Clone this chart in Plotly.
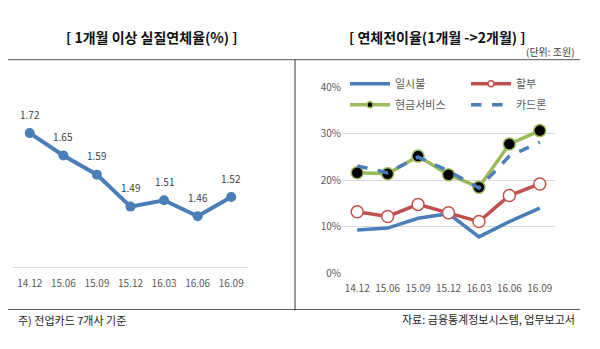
import plotly.graph_objects as go

categories = ["14.12", "15.06", "15.09", "15.12", "16.03", "16.06", "16.09"]
delinquency = [1.72, 1.65, 1.59, 1.49, 1.51, 1.46, 1.52]

lump_sum = [9.3, 9.7, 11.8, 12.8, 7.8, 11.1, 14.0]        # 일시불
installment = [13.2, 12.2, 14.8, 13.0, 11.1, 16.7, 19.2]  # 할부
cash_service = [21.6, 21.4, 25.2, 21.2, 18.5, 27.8, 30.7] # 현금서비스
card_loan = [23.1, 21.6, 25.0, 22.0, 18.3, 25.2, 28.2]    # 카드론

pct_ticks = [0, 10, 20, 30, 40]
pct_labels = [f"{v}%" for v in pct_ticks]

W, H = 600, 349
def px(x):
    return x / W
def py(y):
    return 1 - y / H

FONT = "Noto Sans CJK KR"
BLUE = "#4A7EBB"
RED = "#C0504D"
GREEN = "#9BBB59"
TICK = "#595959"

fig = go.Figure()

# Left chart
fig.add_trace(go.Scatter(
    x=categories, y=delinquency, mode="lines+markers",
    line=dict(color=BLUE, width=4), marker=dict(size=10, color=BLUE),
    xaxis="x", yaxis="y", showlegend=False, hoverinfo="skip"))

for i, v in enumerate(delinquency):
    fig.add_annotation(x=i, y=v, xref="x", yref="y", text=f"{v:.2f}",
                       showarrow=False, yshift=19, xanchor="center", yanchor="middle",
                       font=dict(family=FONT, size=10, color="#404040"))

# Right chart series
series = [
    ("일시불", lump_sum, dict(color=BLUE, width=3.5), None, "legend"),
    ("할부", installment, dict(color=RED, width=3.5),
     dict(color="white", line=dict(color=RED, width=1.5)), "legend2"),
    ("현금서비스", cash_service, dict(color=GREEN, width=3.5),
     dict(color="black", line=dict(color=GREEN, width=1.5)), "legend"),
    ("카드론", card_loan, dict(color=BLUE, width=3.5, dash="dash"), None, "legend2"),
]
for name, vals, ln, mk, lg in series:
    mode = "lines+markers" if mk else "lines"
    fig.add_trace(go.Scatter(
        x=categories, y=vals, mode=mode, name=name, line=ln,
        marker=dict(size=12, **mk) if mk else None, legendgroup=name,
        xaxis="x2", yaxis="y2", showlegend=False))
    # legend entry (smaller marker, as in the reference legend)
    fig.add_trace(go.Scatter(
        x=[None], y=[None], mode=mode, name=name, line=ln,
        marker=dict(size=6, **mk) if mk else None, legendgroup=name,
        xaxis="x2", yaxis="y2", legend=lg, showlegend=True))

legend_common = dict(orientation="v", yanchor="top", xanchor="left",
                     itemwidth=40, tracegroupgap=2, traceorder="grouped",
                     font=dict(family=FONT, size=11, color=TICK),
                     bgcolor="rgba(0,0,0,0)")

fig.update_layout(
    width=W, height=H, margin=dict(l=0, r=0, t=0, b=0),
    paper_bgcolor="white", plot_bgcolor="white",
    font=dict(family=FONT, size=10, color=TICK),
    xaxis=dict(domain=[px(13), px(248)], type="category", showgrid=False,
               range=[-0.5, len(categories) - 0.5],
               showline=True, linecolor="#D9D9D9", linewidth=1, ticks="",
               tickangle=0, ticklabelstandoff=7,
               tickfont=dict(size=10, color=TICK), anchor="y", fixedrange=True),
    yaxis=dict(domain=[py(271), py(104)], range=[1.3, 1.8], visible=False,
               anchor="x", fixedrange=True),
    xaxis2=dict(domain=[px(342), px(555)], type="category", showgrid=False,
                range=[-0.5, len(categories) - 0.5],
                showline=False, ticks="", tickangle=0, ticklabelstandoff=8,
                tickfont=dict(size=10, color=TICK), anchor="y2", fixedrange=True),
    yaxis2=dict(domain=[py(277), py(83)], range=[0, 40], tickmode="array",
                tickvals=pct_ticks, ticktext=pct_labels,
                showgrid=True, gridcolor="#D9D9D9", gridwidth=1,
                zeroline=False, showline=False, ticks="",
                tickfont=dict(size=10, color=TICK), anchor="x2", fixedrange=True),
    legend=dict(x=px(345), y=py(64), **legend_common),
    legend2=dict(x=px(466), y=py(64), **legend_common),
    showlegend=True,
)

# frame lines
line_col = "#595959"
fig.add_shape(type="line", xref="paper", yref="paper", x0=px(8), x1=px(580),
              y0=py(54), y1=py(54), line=dict(color=line_col, width=1))
fig.add_shape(type="line", xref="paper", yref="paper", x0=px(8), x1=px(580),
              y0=py(315), y1=py(315), line=dict(color=line_col, width=1))
fig.add_shape(type="line", xref="paper", yref="paper", x0=px(295), x1=px(295),
              y0=py(54), y1=py(316), line=dict(color="#333333", width=1))

# titles and notes
def note(x, y, text, size, color, xanchor="center"):
    fig.add_annotation(xref="paper", yref="paper", x=px(x), y=py(y),
                       xanchor=xanchor, yanchor="middle", text=text,
                       showarrow=False, font=dict(family=FONT, size=size, color=color))

note(152, 30, "<b>[ 1개월 이상 실질연체율(%) ]</b>", 14, "#111111")
note(437, 30, "<b>[ 연체전이율(1개월 -&gt;2개월) ]</b>", 14, "#111111")
note(577, 45, "(단위: 조원)", 10, "#404040", "right")
note(16, 326, "주) 전업카드 7개사 기준", 11, "#222222", "left")
note(577, 325, "자료: 금융통계정보시스템, 업무보고서", 11, "#222222", "right")

fig.write_html("out.html")
